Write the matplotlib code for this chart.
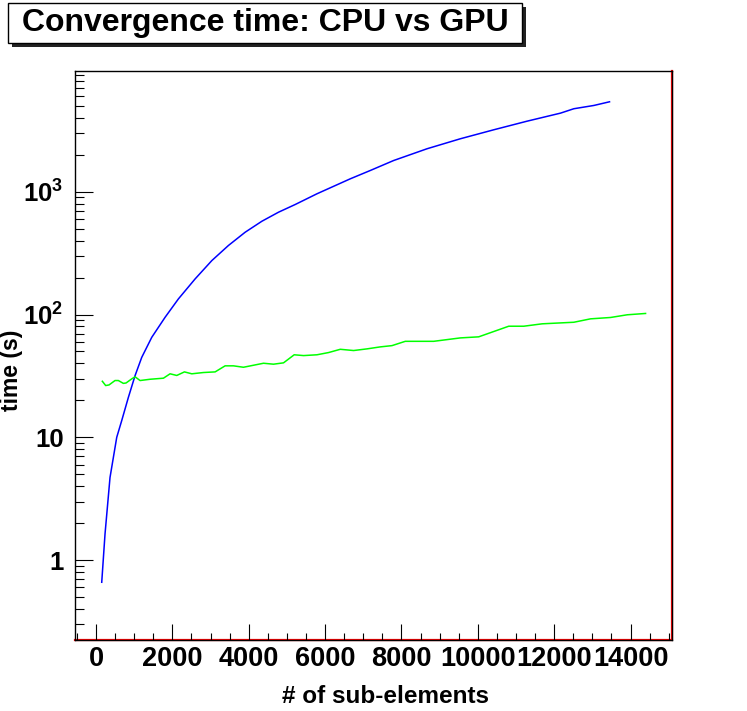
"""Convergence time of the solver, CPU vs GPU, against the number of sub-elements."""
import math

import matplotlib
matplotlib.use("Agg")
import matplotlib.pyplot as plt
from matplotlib.patches import Rectangle
from matplotlib.ticker import FixedLocator, FuncFormatter, LogLocator, MultipleLocator, NullFormatter

plt.rcParams["font.family"] = ["Liberation Sans", "DejaVu Sans"]
plt.rcParams["font.weight"] = "bold"
plt.rcParams["mathtext.fontset"] = "custom"
plt.rcParams["mathtext.rm"] = "Liberation Sans:bold"
plt.rcParams["mathtext.bf"] = "Liberation Sans:bold"
plt.rcParams["mathtext.it"] = "Liberation Sans:bold"

# CPU timings (blue)
cpu_n = [150, 236, 367, 543, 674, 847, 1023, 1198, 1460, 1809, 2158, 2596, 3034, 3469,
         3907, 4345, 4780, 5218, 5787, 6660, 7184, 7795, 8670, 9544, 10417, 11292,
         12166, 12515, 13039, 13450]
cpu_t = [0.66, 1.63, 4.71, 10.0, 13.7, 21.1, 31.8, 44.8, 65.2, 94.9, 134, 195, 275, 365,
         468, 575, 681, 787, 962, 1274, 1489, 1795, 2238, 2700, 3194, 3755,
         4365, 4740, 5040, 5400]

# GPU timings (green)
gpu_n = [166, 253, 341, 498, 585, 716, 787, 935, 1023, 1154, 1416, 1766, 1940, 2115,
         2316, 2509, 2814, 3120, 3382, 3600, 3862, 4387, 4649, 4911, 5191, 5436, 5787,
         6091, 6398, 6747, 7097, 7446, 7752, 8101, 8844, 9544, 10023, 10810, 11203,
         11686, 12515, 12952, 13477, 13914, 14394]
gpu_t = [28.6, 26.4, 26.7, 29.0, 29.0, 27.5, 27.7, 29.9, 31.1, 29.0, 29.7, 30.3, 32.9,
         31.9, 34.1, 32.9, 33.7, 34.1, 38.2, 38.2, 37.2, 40.1, 39.4, 40.4, 47.0, 46.3,
         47.0, 49.0, 52.1, 50.9, 52.5, 54.5, 55.8, 60.5, 60.5, 64.5, 65.8, 80.3, 80.3,
         84.0, 86.5, 92.2, 94.6, 99.5, 102]

x_major = [0, 2000, 4000, 6000, 8000, 10000, 12000, 14000]
y_major = [1, 10, 100, 1000]

title = "Convergence time: CPU vs GPU"
xlabel = "# of sub-elements"
ylabel = "time (s)"


def ylab(v, pos):
    if v < 100:
        return f"{v:g}"
    return r"$10^{%d}$" % round(math.log10(v))


fig = plt.figure(figsize=(7.47, 7.11), dpi=100)
ax = fig.add_axes([0.1, 0.1, 0.8, 0.8])

ax.plot(cpu_n, cpu_t, color="#0000ff", lw=1.1)
ax.plot(gpu_n, gpu_t, color="#00ff00", lw=1.1)
# empty histogram outline, drawn in red along the bottom and right edge
ax.plot([0, 1, 1], [0, 0, 1], transform=ax.transAxes, color="red", lw=1.6,
        clip_on=False, zorder=1)

ax.set_yscale("log")
ax.set_xlim(-558, 15094)
ax.set_ylim(0.224, 9600)

ax.xaxis.set_major_locator(FixedLocator(x_major))
ax.xaxis.set_minor_locator(MultipleLocator(500))
ax.yaxis.set_major_locator(FixedLocator(y_major))
ax.yaxis.set_minor_locator(LogLocator(base=10, subs=range(2, 10)))
ax.yaxis.set_major_formatter(FuncFormatter(ylab))
ax.yaxis.set_minor_formatter(NullFormatter())

ax.tick_params(axis="x", which="major", direction="in", length=11.3, width=0.8,
               labelsize=19.5, pad=4.5, top=False)
ax.tick_params(axis="x", which="minor", direction="in", length=5.2, width=0.8, top=False)
ax.tick_params(axis="y", which="major", direction="in", length=13, width=0.8,
               labelsize=18.5, pad=8, right=False)
ax.tick_params(axis="y", which="minor", direction="in", length=6.5, width=0.8, right=False)
for lab in ax.get_xticklabels() + ax.get_yticklabels():
    lab.set_fontweight("bold")

for sp in ax.spines.values():
    sp.set_linewidth(1.0)

ax.set_xlabel(xlabel, fontsize=17.5, fontweight="bold", va="top")
ax.xaxis.set_label_coords(0.52, -0.08)
fig.text(12 / 747, 1 - 370 / 711, ylabel, rotation=90, ha="center", va="center",
         fontsize=16.5, fontweight="bold")

# title pave with shadow
x0, x1 = 8 / 747, 522 / 747
y0, y1 = 1 - 43 / 711, 1 - 3 / 711
dx, dy = 4 / 747, 4 / 711
fig.patches.append(Rectangle((x0 + dx, y0 - dy), x1 - x0, y1 - y0, transform=fig.transFigure,
                             facecolor="#222222", edgecolor="none", zorder=5))
fig.patches.append(Rectangle((x0, y0), x1 - x0, y1 - y0, transform=fig.transFigure,
                             facecolor="white", edgecolor="black", lw=1.0, zorder=6))
fig.text((x0 + x1) / 2, 1 - 23 / 711, title, ha="center", va="center", fontsize=23,
         fontweight="bold", zorder=7)

fig.savefig("out.png", dpi=100)
